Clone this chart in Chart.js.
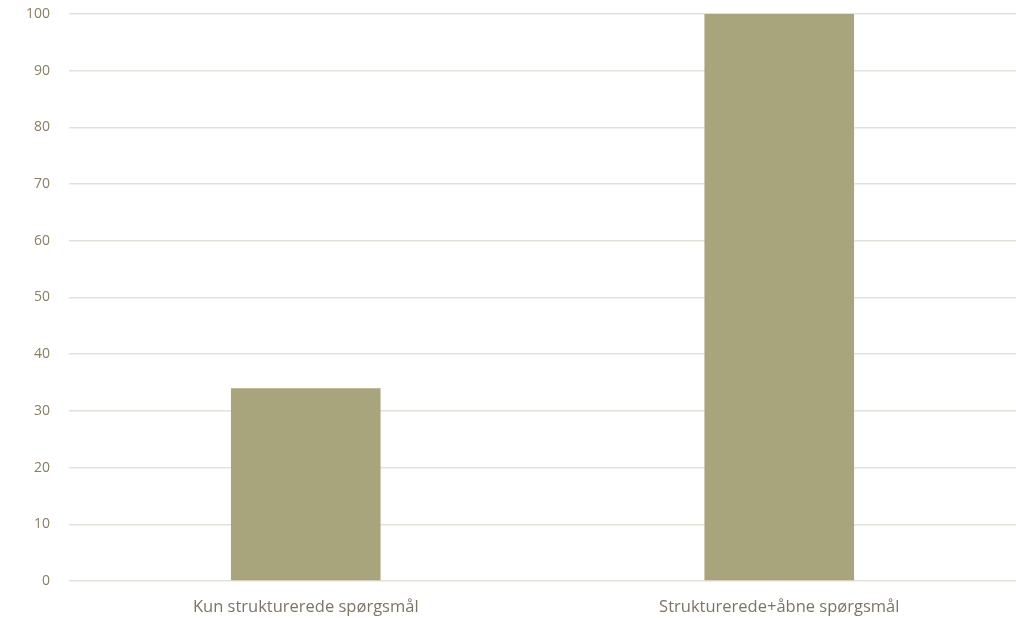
<!DOCTYPE html>
<html>
<head>
<meta charset="utf-8">
<script src="https://cdn.jsdelivr.net/npm/chart.js@4/dist/chart.umd.min.js"></script>
<style>
html,body{margin:0;padding:0;background:#fff;}
#wrap{width:1016px;height:618px;}
</style>
</head>
<body>
<div id="wrap"><canvas id="c" width="1016" height="618"></canvas></div>
<script>
const categories = ["Kun strukturerede spørgsmål", "Strukturerede+åbne spørgsmål"];
const values = [34, 100];
const yMin = 0, yMax = 100, yStep = 10;

new Chart(document.getElementById('c'), {
  type: 'bar',
  data: {
    labels: categories,
    datasets: [{
      data: values,
      backgroundColor: '#a8a47c',
      borderWidth: 0,
      barPercentage: 0.316,
      categoryPercentage: 1.0
    }]
  },
  options: {
    responsive: false,
    animation: false,
    devicePixelRatio: 1,
    layout: { padding: { top: 14, right: 0, left: 0, bottom: 0 } },
    plugins: { legend: { display: false }, tooltip: { enabled: false } },
    scales: {
      x: {
        grid: { display: false },
        border: { display: false },
        ticks: { color: '#7d7466', font: { family: 'Open Sans', size: 16.5 }, padding: 8 },
        afterFit: (s) => { s.height = 37; s.paddingLeft = 0; s.paddingRight = 0; }
      },
      y: {
        min: yMin, max: yMax,
        grid: { color: '#e3e1da', lineWidth: 1.5, drawTicks: false },
        border: { display: false },
        ticks: { stepSize: yStep, color: '#8a7e62', font: { family: 'Open Sans', size: 14 }, padding: 19 },
        afterFit: (s) => { s.width = 69; s.paddingTop = 0; s.paddingBottom = 0; }
      }
    }
  }
});
</script>
</body>
</html>
